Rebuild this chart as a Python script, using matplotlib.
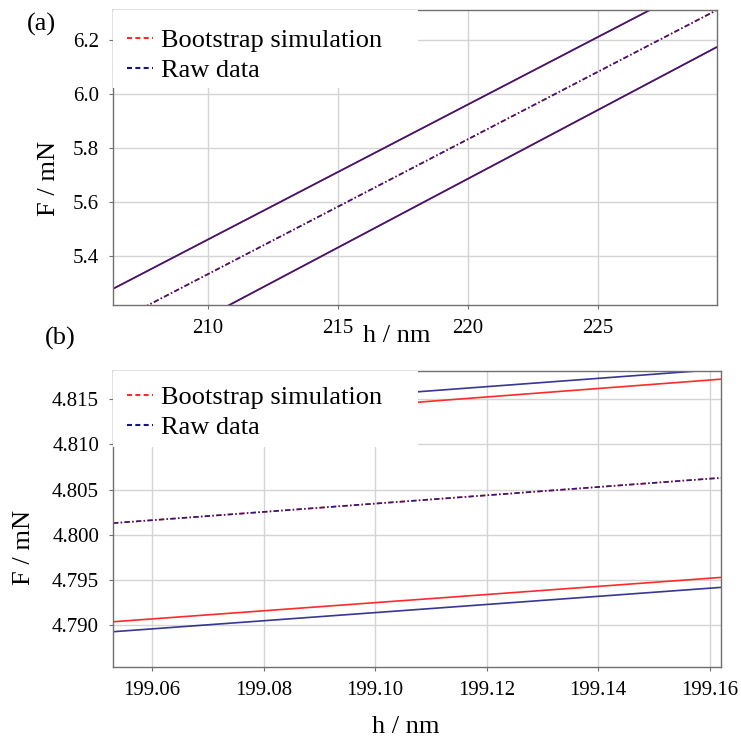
import matplotlib.pyplot as plt
from matplotlib.lines import Line2D
from matplotlib.patches import Rectangle

plt.rcParams['font.family'] = ['Liberation Serif', 'DejaVu Serif']

# Панель (a): концы линий (h, F) -- нижняя граница, среднее, верхняя граница
a_h = [206.35, 229.58]
a_boot_low = [4.990, 6.174]
a_boot_mid = [5.15, 6.311]
a_boot_up = [5.278, 6.440]
a_raw_low = [4.990, 6.174]
a_raw_mid = [5.15, 6.311]
a_raw_up = [5.278, 6.440]
a_xticks = [210, 215, 220, 225]
a_yticks = [5.4, 5.6, 5.8, 6.0, 6.2]

# Панель (b)
b_h = [199.053, 199.162]
b_boot_low = [4.7904, 4.7953]
b_boot_mid = [4.8013, 4.8063]
b_boot_up = [4.8121, 4.8172]
b_raw_low = [4.7893, 4.7942]
b_raw_mid = [4.8013, 4.8063]
b_raw_up = [4.8133, 4.8183]
b_xticks = [199.06, 199.08, 199.10, 199.12, 199.14, 199.16]
b_yticks = [4.790, 4.795, 4.800, 4.805, 4.810, 4.815]

red = '#ff2a2a'
blue = '#141482'
dashdot = (0, (3.2, 1.4, 0.9, 1.4))

fig = plt.figure(figsize=(7.41, 7.40), dpi=100)
ax1 = fig.add_axes([0.1525, 0.5878, 0.8151, 0.3987])
ax2 = fig.add_axes([0.1525, 0.0986, 0.8205, 0.4000])


def draw(ax, h, boot, raw):
    for i, y in enumerate(boot):
        ls = dashdot if i == 1 else '-'
        ax.plot(h, y, color=red, lw=1.2, ls=ls, zorder=2)
    for i, y in enumerate(raw):
        ls = dashdot if i == 1 else '-'
        ax.plot(h, y, color=blue, lw=1.2, ls=ls, alpha=0.85, zorder=2)


def style(ax, xt, yt, xlim, ylim, fmt, legw, legh, legy):
    ax.set_xlim(xlim)
    ax.set_ylim(ylim)
    ax.set_xticks(xt)
    ax.set_yticks(yt)
    ax.set_yticklabels([fmt % v for v in yt])
    ax.grid(True, color='#d4d4d4', lw=1.0)
    ax.set_axisbelow(True)
    for s in ax.spines.values():
        s.set_color('#707070')
        s.set_linewidth(1.0)
    ax.tick_params(labelsize=15, length=3, color='#707070', pad=7)
    # белая подложка под легендой
    ax.add_patch(Rectangle((0, 1 - legh), legw, legh, transform=ax.transAxes,
                           facecolor='white', edgecolor='none', zorder=3))
    handles = [Line2D([], [], color=red, lw=1.5, ls=(0, (2.4, 1.6))),
               Line2D([], [], color=blue, lw=1.5, ls=(0, (2.4, 1.6)))]
    leg = ax.legend(handles, ['Bootstrap simulation', 'Raw data'],
                    loc='upper left', bbox_to_anchor=(-0.008, legy), frameon=False,
                    fontsize=19, handlelength=1.0, handletextpad=0.3,
                    labelspacing=0.25, borderaxespad=0.5, borderpad=0.2)
    leg.set_zorder(4)


draw(ax1, a_h, [a_boot_low, a_boot_mid, a_boot_up], [a_raw_low, a_raw_mid, a_raw_up])
style(ax1, a_xticks, a_yticks, (206.35, 229.58), (5.218, 6.311), '%.1f', 0.505, 0.264, 1.0)
draw(ax2, b_h, [b_boot_low, b_boot_mid, b_boot_up], [b_raw_low, b_raw_mid, b_raw_up])
style(ax2, b_xticks, b_yticks, (199.053, 199.162), (4.7854, 4.8181), '%.3f', 0.502, 0.257, 1.012)
ax2.set_xticklabels(['%.2f' % v for v in b_xticks])

ax1.set_ylabel('F / mN', fontsize=19)
ax1.yaxis.set_label_coords(-0.088, 0.43)
ax1.set_xlabel('h / nm', fontsize=19)
ax1.xaxis.set_label_coords(0.469, -0.066)
ax2.set_ylabel('F / mN', fontsize=19)
ax2.yaxis.set_label_coords(-0.128, 0.405)
ax2.set_xlabel('h / nm', fontsize=19)
ax2.xaxis.set_label_coords(0.482, -0.166)

fig.text(41 / 741, 1 - 24 / 740, '(a)', fontsize=19, ha='center', va='center')
fig.text(60 / 741, 1 - 338 / 740, '(b)', fontsize=19, ha='center', va='center')

fig.savefig('out.png', dpi=100)
